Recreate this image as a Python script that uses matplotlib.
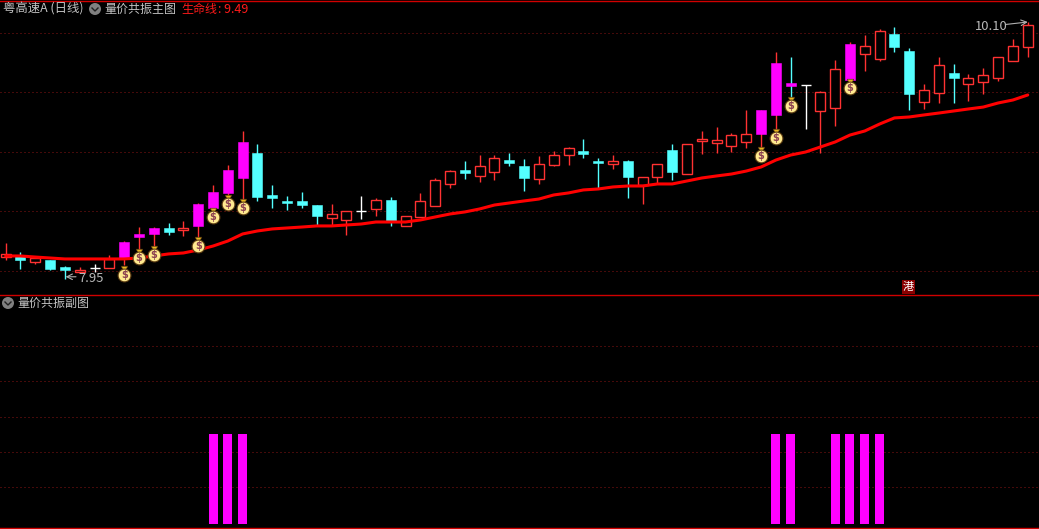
import matplotlib
matplotlib.use("Agg")
import matplotlib.pyplot as plt
from matplotlib.patches import Circle, Rectangle
from matplotlib.transforms import ScaledTranslation
import numpy as np

FONT = ['Noto Sans CJK SC', 'DejaVu Sans']
plt.rcParams['font.family'] = FONT

highs = [8.252,8.177,8.144,8.110,8.060,8.052,8.077,8.152,8.269,8.386,8.386,8.420,8.436,8.587,8.737,8.905,9.189,9.080,8.737,8.645,
         8.679,8.570,8.579,8.520,8.645,8.629,8.637,8.478,8.671,8.796,8.863,8.938,8.988,8.988,9.005,8.955,8.980,9.022,9.055,9.122,
         8.963,8.988,8.946,8.804,8.913,9.080,9.080,9.189,9.222,9.172,9.364,9.364,9.849,9.807,9.573,9.523,9.782,9.933,9.991,10.042,
         10.058,9.883,9.582,9.807,9.749,9.665,9.716,9.807,9.958,10.100]
lows = [8.110,8.035,8.077,8.027,7.952,8.002,8.010,8.044,8.069,8.194,8.211,8.319,8.311,8.278,8.528,8.645,8.612,8.604,8.545,8.528,
        8.545,8.403,8.403,8.319,8.453,8.478,8.395,8.395,8.470,8.562,8.712,8.788,8.762,8.779,8.896,8.687,8.746,8.896,8.905,8.963,
        8.704,8.871,8.629,8.579,8.754,8.779,8.829,8.997,9.005,9.013,9.047,9.047,9.189,9.465,9.206,9.005,9.231,9.615,9.690,9.774,
        9.849,9.364,9.373,9.423,9.423,9.440,9.498,9.607,9.774,9.807]
body_top = [8.161,8.152,8.127,8.110,8.052,8.027,8.044,8.119,8.261,8.328,8.378,8.378,8.378,8.579,8.679,8.863,9.097,9.005,8.654,8.604,
            8.604,8.570,8.495,8.520,8.520,8.612,8.612,8.478,8.604,8.779,8.854,8.863,8.896,8.963,8.946,8.896,8.913,8.988,9.047,9.022,
            8.938,8.938,8.938,8.804,8.913,9.030,9.080,9.122,9.114,9.155,9.164,9.364,9.757,9.590,9.573,9.515,9.707,9.916,9.899,10.025,
            9.998,9.858,9.532,9.741,9.674,9.632,9.657,9.807,9.899,10.075]
body_bottom = [8.135,8.110,8.094,8.035,8.027,8.010,8.044,8.044,8.119,8.303,8.328,8.345,8.361,8.395,8.545,8.671,8.796,8.637,8.629,8.587,
               8.570,8.478,8.462,8.445,8.520,8.537,8.436,8.395,8.470,8.562,8.746,8.838,8.813,8.846,8.921,8.796,8.788,8.905,8.988,8.997,
               8.921,8.913,8.804,8.737,8.804,8.846,8.829,9.105,9.089,9.063,9.097,9.164,9.323,9.565,9.573,9.356,9.381,9.615,9.833,9.791,
               9.891,9.498,9.431,9.507,9.632,9.582,9.598,9.632,9.774,9.891]
kinds = list("rcrccrwrmmmcrmmmmcccccrrwrcrrrrcrrccrrrccrcrrcrrrrrmmmwrrmrrccrrcrrrrr")
life_line = [8.144,8.144,8.135,8.127,8.119,8.119,8.119,8.119,8.119,8.127,8.144,8.161,8.169,8.194,8.227,8.269,8.328,8.353,8.370,8.378,
             8.386,8.395,8.395,8.403,8.411,8.428,8.428,8.428,8.445,8.470,8.495,8.512,8.537,8.570,8.587,8.604,8.620,8.654,8.671,8.696,
             8.704,8.721,8.729,8.729,8.746,8.746,8.771,8.796,8.813,8.829,8.854,8.888,8.946,8.988,9.013,9.055,9.097,9.155,9.189,9.247,
             9.298,9.306,9.323,9.339,9.356,9.373,9.389,9.423,9.448,9.490]
bag_idx = [8, 9, 10, 13, 14, 15, 16, 51, 52, 53, 57]
bag_price = [7.985, 8.127, 8.152, 8.227, 8.470, 8.579, 8.545, 8.980, 9.130, 9.398, 9.548]
signal_idx = [14, 15, 16, 52, 53, 56, 57, 58, 59]
signal_val = [100, 100, 100, 100, 100, 100, 100, 100, 100]
price_grid = [10.008, 9.515, 9.013, 8.520, 8.018]
sub_grid = [198, 159, 119, 80, 41]

BG = '#000000'
RED = '#FF3232'
CYAN = '#54FFFF'
MAG = '#FF00FF'
WHITE = '#FFFFFF'
GRID = '#8A1515'
SEP = '#D00000'
W, H = 1039, 529

fig = plt.figure(figsize=(W / 100, H / 100), dpi=100, facecolor=BG)
ax = fig.add_axes([0, (H - 294) / H, 1, 294 / H], facecolor=BG)
sub = fig.add_axes([0, (H - 527) / H, 1, (527 - 295) / H], facecolor=BG)
over = fig.add_axes([0, 0, 1, 1], facecolor='none')
over.set_xlim(0, W); over.set_ylim(H, 0); over.axis('off')

xlim = (-0.38, 69.76)
ax.set_xlim(*xlim); ax.set_ylim(7.826, 10.284)
sub.set_xlim(*xlim); sub.set_ylim(-3.33, 254.4)
for a in (ax, sub):
    a.set_xticks([]); a.set_yticks([])
    for s in a.spines.values():
        s.set_visible(False)

dots = (0, (1, 3))
for v in price_grid:
    ax.axhline(v, color=GRID, lw=0.72, ls=dots, zorder=1, snap=True)
for v in sub_grid:
    sub.axhline(v, color=GRID, lw=0.72, ls=dots, zorder=1, snap=True)

colors = {'r': RED, 'c': CYAN, 'm': MAG, 'w': WHITE}
wick_colors = {'r': RED, 'c': CYAN, 'm': RED, 'w': WHITE}
BW = 10 / 14.82
for i, k in enumerate(kinds):
    wc = CYAN if i == 53 else wick_colors[k]
    ax.vlines(i, lows[i], highs[i], color=wc, lw=1.0, zorder=2, snap=True)
    t, b = body_top[i], body_bottom[i]
    if k == 'w' or t == b:
        ax.hlines(t, i - BW / 2, i + BW / 2, color=colors[k], lw=1.0, zorder=3, snap=True)
    elif k == 'r':
        ax.bar(i, t - b, BW, b, facecolor=BG, edgecolor=RED, lw=1.0, zorder=3, snap=True)
    else:
        ax.bar(i, t - b, BW, b, facecolor=colors[k], edgecolor=colors[k], lw=0.4, zorder=3, snap=True)

ax.plot(range(len(life_line)), life_line, color='#FF0000', lw=2.2, zorder=4, solid_capstyle='round')

neck = ax.transData + ScaledTranslation(0, 6 / 100, fig.dpi_scale_trans)
ax.scatter(bag_idx, bag_price, s=85, marker='o', facecolor='#FFE98F', edgecolor='#5A3A10', lw=0.8, zorder=6)
ax.scatter(bag_idx, bag_price, s=22, marker='v', facecolor='#E8B820', edgecolor='#5A3A10', lw=0.5, zorder=5, transform=neck)
for i, p in zip(bag_idx, bag_price):
    ax.text(i, p, r'\$', color='#8B4050', fontsize=7, fontweight='bold', ha='center', va='center',
            family='DejaVu Sans', zorder=7)

sub.bar(signal_idx, signal_val, 9 / 14.82, color=MAG, zorder=3, snap=True)

ax.annotate('', xy=(69, highs[69]), xytext=(67.55, 10.08),
            arrowprops=dict(arrowstyle='->', color='#B0B0B0', lw=0.8, shrinkA=0, shrinkB=0), zorder=8)
ax.annotate('', xy=(4.05, 7.97), xytext=(4.75, 7.97),
            arrowprops=dict(arrowstyle='->', color='#B0B0B0', lw=0.8, shrinkA=0, shrinkB=0), zorder=8)

GRAY = '#C4C4C4'
over.axhline(0.5, color=SEP, lw=1)
over.axhline(294.5, color=SEP, lw=1)
over.axhline(527.5, color=SEP, lw=1)
fs = 8.64
over.text(3, 9.5, '粤高速A (日线)', color=GRAY, fontsize=8.9, va='center', ha='left')
over.text(104, 9.5, '量价共振主图', color=GRAY, fontsize=fs, va='center', ha='left')
over.text(181, 9.5, '生命线', color='#FF1A1A', fontsize=fs, va='center', ha='left')
over.text(218, 9.5, ': 9.49', color='#FF1A1A', fontsize=9.0, va='center', ha='left')
over.text(17, 303.5, '量价共振副图', color=GRAY, fontsize=fs, va='center', ha='left')
over.text(975, 27, '10.10', color='#B8B8B8', fontsize=9.4, va='center', ha='left')
over.text(78, 279, '7.95', color='#B8B8B8', fontsize=9.4, va='center', ha='left')
for cx, cy in [(95, 9), (8, 303)]:
    over.add_patch(Circle((cx, cy), 6, facecolor='#808080', edgecolor='none'))
    over.plot([cx - 3, cx, cx + 3], [cy - 1, cy + 2, cy - 1], color='#202020', lw=1)
over.add_patch(Rectangle((902, 280), 13, 14, facecolor='#8B0000', edgecolor='none'))
over.text(908.5, 287, '港', color='white', fontsize=8, ha='center', va='center')

fig.savefig('out.png', dpi=100, facecolor=BG)
